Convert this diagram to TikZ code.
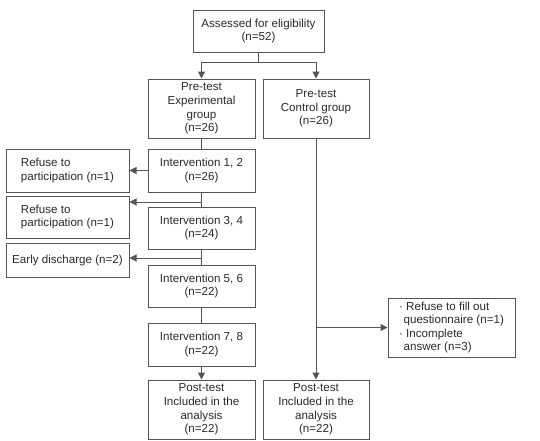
\documentclass[tikz,border=0pt]{standalone}
\usepackage{fontspec}
\setmainfont{Liberation Sans}
\usetikzlibrary{arrows.meta}
\definecolor{linegray}{HTML}{555555}
\definecolor{textgray}{HTML}{2A2A2A}

\begin{document}
\begin{tikzpicture}[x=1pt,y=-1pt,
		box/.style={draw=linegray, line width=1pt, text=textgray, align=center,
			inner sep=2pt, font=\fontsize{11.6}{13.6}\selectfont},
		arr/.style={-{Triangle[length=7pt,width=7pt]}}]
			\useasboundingbox (0,0) rectangle (540,440);
			\node[box, minimum width=131pt, minimum height=42pt](assess) at (258.5,31) {Assessed for eligibility\\(n=52)};
			\node[box, minimum width=107pt, minimum height=59pt](expgrp) at (201.5,108.5) {Pre-test\\Experimental\\group\\(n=26)};
			\node[box, minimum width=106pt, minimum height=59pt](ctlgrp) at (316,108.5) {Pre-test\\Control group\\(n=26)};
			\node[box, minimum width=107pt, minimum height=43pt](int12) at (201.5,170.5) {Intervention 1, 2\\(n=26)};
			\node[box, minimum width=107pt, minimum height=42pt](int34) at (201.5,228) {Intervention 3, 4\\(n=24)};
			\node[box, minimum width=107pt, minimum height=42pt](int56) at (201.5,286) {Intervention 5, 6\\(n=22)};
			\node[box, minimum width=107pt, minimum height=43pt](int78) at (201.5,344.5) {Intervention 7, 8\\(n=22)};
			\node[box, minimum width=107pt, minimum height=59pt](post1) at (201.5,409.5) {Post-test\\Included in the\\analysis\\(n=22)};
			\node[box, minimum width=106pt, minimum height=59pt](post2) at (316,409.5) {Post-test\\Included in the\\analysis\\(n=22)};
			\node[box, align=left, minimum width=123pt, minimum height=43pt](ref1) at (67.5,170.5) {Refuse to\\participation (n=1)};
			\node[box, align=left, minimum width=123pt, minimum height=42pt](ref2) at (67.5,217) {Refuse to\\participation (n=1)};
			\node[box, minimum width=123pt, minimum height=34pt](early) at (67.5,260) {Early discharge (n=2)};
			\node[box, align=left, minimum width=127pt, minimum height=59pt](excl) at (451.5,327.5) {\textperiodcentered\ Refuse to fill out\\\hspace*{4.5pt}questionnaire (n=1)\\\textperiodcentered\ Incomplete\\\hspace*{4.5pt}answer (n=3)};
			% branch points
			\coordinate (split) at (258.5,62);
			\coordinate (b2) at (201.5,202);
			\coordinate (b3) at (201.5,258);
			\coordinate (b4) at (316,327.5);
			\begin{scope}[draw=linegray, fill=linegray, line width=1pt]
			\draw(assess.south) -- (split);
			\draw[arr](split) -| (expgrp.north);
			\draw[arr](split) -| (ctlgrp.north);
			\draw(expgrp.south) -- (int12.north);
			\draw[arr](int12.west) -- (ref1.east);
			\draw(int12.south) -- (int34.north);
			\draw[arr](b2) -- (b2 -| ref2.east);
			\draw(int34.south) -- (int56.north);
			\draw[arr](b3) -- (b3 -| early.east);
			\draw(int56.south) -- (int78.north);
			\draw[arr](int78.south) -- (post1.north);
			\draw[arr](ctlgrp.south) -- (post2.north);
			\draw[arr](b4) -- (excl.west);
			\end{scope}
		\end{tikzpicture}
\end{document}
